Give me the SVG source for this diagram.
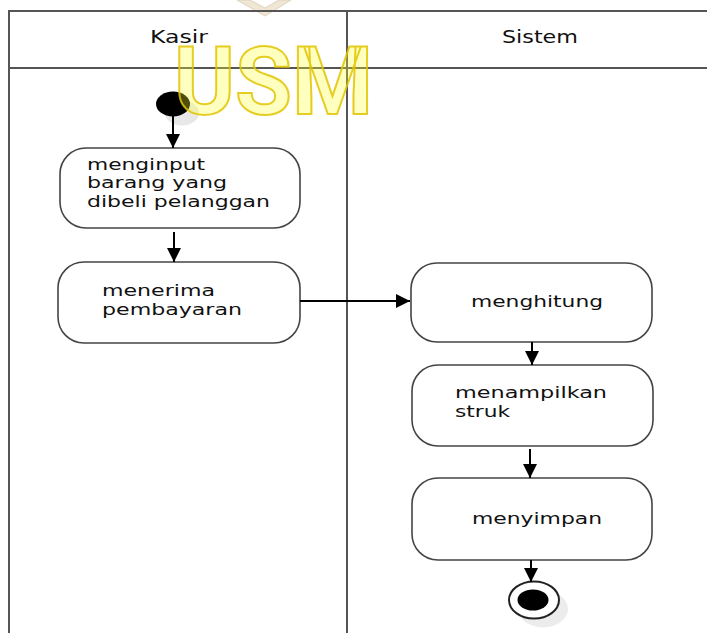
<svg xmlns="http://www.w3.org/2000/svg" width="707" height="633" viewBox="0 0 707 633">
<style>
.lane{stroke:#555;stroke-width:2;fill:none}
.node{fill:#fff;stroke:#444;stroke-width:1.6}
.t{font-family:"DejaVu Sans","Liberation Sans",sans-serif;font-size:16px;fill:#111}
.h{font-family:"DejaVu Sans","Liberation Sans",sans-serif;font-size:17px;fill:#111}
.edge{stroke:#000;stroke-width:2;fill:none;marker-end:url(#arr)}
</style>
<defs>
<marker id="arr" markerUnits="userSpaceOnUse" markerWidth="14" markerHeight="14" viewBox="0 0 14 14" refX="14" refY="7" orient="auto">
<path d="M0,0 L14,7 L0,14 Z" fill="#000"/>
</marker>
</defs>
<rect width="707" height="633" fill="#fff"/>
<polygon points="237,0 250,0 265,8 279,0 291,0 265,16" fill="#efe6d4" stroke="#ddd2bc" stroke-width="1"/>
<g id="lanes">
<path class="lane" d="M9,633 V11 H733 M9,68 H733 M347,11 V633"/>
<text class="h" x="150" y="43" textLength="58" lengthAdjust="spacingAndGlyphs">Kasir</text>
<text class="h" x="502" y="43" textLength="76" lengthAdjust="spacingAndGlyphs">Sistem</text>
</g>
<g id="start">
<ellipse cx="182" cy="113" rx="17" ry="12.5" fill="#e8e8e8"/>
<ellipse cx="173" cy="104" rx="17" ry="12.5" fill="#000"/>
</g>
<g id="node1">
<rect class="node" x="60" y="148" width="240" height="80" rx="26" ry="26"/>
<text class="t" x="87" y="170" textLength="118" lengthAdjust="spacingAndGlyphs">menginput</text>
<text class="t" x="87" y="188" textLength="140" lengthAdjust="spacingAndGlyphs">barang yang</text>
<text class="t" x="87" y="206.5" textLength="183" lengthAdjust="spacingAndGlyphs">dibeli pelanggan</text>
</g>
<g id="node2">
<rect class="node" x="58" y="262" width="242" height="81" rx="26" ry="26"/>
<text class="t" x="102" y="296" textLength="113" lengthAdjust="spacingAndGlyphs">menerima</text>
<text class="t" x="102" y="315" textLength="140" lengthAdjust="spacingAndGlyphs">pembayaran</text>
</g>
<g id="node3">
<rect class="node" x="411" y="263" width="241" height="79" rx="26" ry="26"/>
<text class="t" x="471" y="307" textLength="132" lengthAdjust="spacingAndGlyphs">menghitung</text>
</g>
<g id="node4">
<rect class="node" x="412" y="365" width="241" height="81" rx="26" ry="26"/>
<text class="t" x="455" y="398" textLength="152" lengthAdjust="spacingAndGlyphs">menampilkan</text>
<text class="t" x="455" y="417" textLength="55" lengthAdjust="spacingAndGlyphs">struk</text>
</g>
<g id="node5">
<rect class="node" x="412" y="478" width="240" height="82" rx="26" ry="26"/>
<text class="t" x="472" y="524" textLength="130" lengthAdjust="spacingAndGlyphs">menyimpan</text>
</g>
<g id="end">
<ellipse cx="543" cy="609" rx="25" ry="18.5" fill="#ececec"/>
<ellipse cx="534" cy="600" rx="25" ry="18.5" fill="#fff" stroke="#222" stroke-width="2"/>
<ellipse cx="533" cy="600" rx="15.5" ry="10.5" fill="#000"/>
</g>
<g id="connectors">
<path class="edge" d="M173,116 V148"/>
<path class="edge" d="M174,232 V262"/>
<path class="edge" d="M300,301 H410"/>
<path class="edge" d="M532,342 V365"/>
<path class="edge" d="M530,449 V478"/>
<path class="edge" d="M531,560 V582"/>
</g>
<text x="174" y="114" font-family="Roboto,'Liberation Sans',sans-serif" font-weight="700" font-size="94" textLength="199" lengthAdjust="spacingAndGlyphs" fill="#ffff30" fill-opacity="0.3" stroke="#e2c400" stroke-width="2" stroke-opacity="0.85">USM</text>
</svg>
